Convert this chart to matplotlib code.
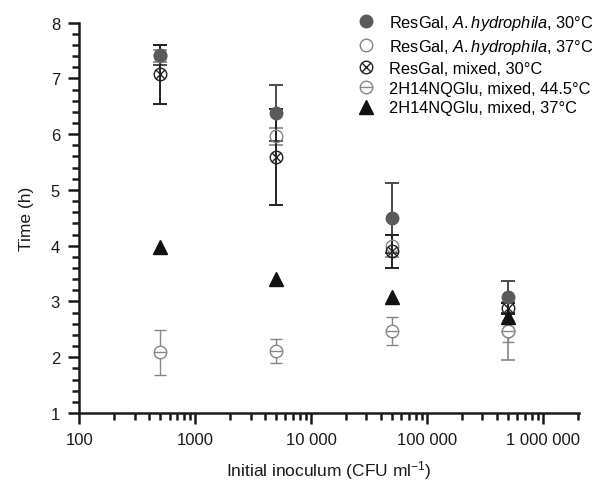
import matplotlib
matplotlib.use("Agg")
import matplotlib.pyplot as plt
from matplotlib.lines import Line2D
from matplotlib.path import Path
from matplotlib.ticker import FixedLocator, MultipleLocator, NullFormatter

plt.rcParams['font.family'] = ['Liberation Sans', 'DejaVu Sans']
plt.rcParams['mathtext.fontset'] = 'custom'
plt.rcParams['mathtext.rm'] = 'Liberation Sans'
plt.rcParams['mathtext.it'] = 'Liberation Sans:italic'

# Data
inoculum = [500, 5000, 50000, 500000]

resgal_ah_30 = [7.42, 6.38, 4.49, 3.08]
resgal_ah_30_err = [0.18, 0.50, 0.63, 0.29]

resgal_ah_37 = [7.40, 5.96, 3.99, 2.47]
resgal_ah_37_err = [0.10, 0.15, 0.20, 0.52]

resgal_mixed_30 = [7.07, 5.59, 3.90, 2.88]
resgal_mixed_30_err = [0.53, 0.86, 0.30, 0.10]

nqglu_445 = [2.09, 2.11, 2.47, 2.47]
nqglu_445_err = [0.40, 0.21, 0.25, 0.20]

nqglu_37 = [3.97, 3.40, 3.08, 2.72]

x_ticks = [100, 1000, 10000, 100000, 1000000]
x_tick_labels = ['100', '1000', '10 000', '100 000', '1 000 000']

labels = ['ResGal, $\\mathit{A.hydrophila}$, 30°C',
          'ResGal, $\\mathit{A.hydrophila}$, 37°C',
          'ResGal, mixed, 30°C',
          '2H14NQGlu, mixed, 44.5°C',
          '2H14NQGlu, mixed, 37°C']

# Custom markers: circle with a cross, circle with a horizontal bar
r = 0.7071
circ = Path.unit_circle()
cross = Path([(-r, -r), (r, r), (-r, r), (r, -r)],
             [Path.MOVETO, Path.LINETO, Path.MOVETO, Path.LINETO])
bar = Path([(-1, 0), (1, 0)], [Path.MOVETO, Path.LINETO])
circle_cross = Path.make_compound_path(circ, cross)
circle_bar = Path.make_compound_path(circ, bar)

dark = '#5a5a5a'
grey = '#858585'
black = '#1a1a1a'

styles = [
    dict(marker='o', ms=9, mfc=dark, mec=dark, mew=1.0),
    dict(marker='o', ms=9, mfc='none', mec=grey, mew=1.0),
    dict(marker=circle_cross, ms=9, mfc='none', mec='#222222', mew=1.0),
    dict(marker=circle_bar, ms=9, mfc='white', mec=grey, mew=1.0),
    dict(marker='^', ms=10, mfc='#111111', mec='#111111', mew=1.0),
]

fig = plt.figure(figsize=(5.95, 4.85), dpi=100)
ax = fig.add_axes([0.1336, 0.1464, 0.8394, 0.805])

# error bars first
ax.errorbar(inoculum, resgal_ah_30, yerr=resgal_ah_30_err, fmt='none',
            ecolor='#4a4a4a', elinewidth=1.4, capsize=5, capthick=1.4, zorder=2)
ax.errorbar(inoculum, resgal_ah_37, yerr=resgal_ah_37_err, fmt='none',
            ecolor=grey, elinewidth=1.2, capsize=5, capthick=1.2, zorder=2)
ax.errorbar(inoculum, resgal_mixed_30, yerr=resgal_mixed_30_err, fmt='none',
            ecolor='#222222', elinewidth=1.4, capsize=5, capthick=1.4, zorder=2)
ax.errorbar(inoculum, nqglu_445, yerr=nqglu_445_err, fmt='none', ecolor=grey,
            elinewidth=1.0, capsize=4, capthick=1.0, zorder=2)

# markers
ax.plot(inoculum, resgal_ah_37, ls='none', zorder=3, **styles[1])
ax.plot(inoculum, nqglu_445, ls='none', zorder=3, **styles[3])
ax.plot(inoculum, resgal_mixed_30, ls='none', zorder=3.5, **styles[2])
ax.plot(inoculum, resgal_ah_30, ls='none', zorder=4, **styles[0])
ax.plot(inoculum, nqglu_37, ls='none', zorder=5, **styles[4])

ax.set_xscale('log')
ax.set_xlim(100, 2.05e6)
ax.set_ylim(1, 8)
ax.xaxis.set_major_locator(FixedLocator(x_ticks))
ax.set_xticklabels(x_tick_labels)
ax.xaxis.set_minor_formatter(NullFormatter())
ax.yaxis.set_major_locator(MultipleLocator(1))
ax.yaxis.set_minor_locator(MultipleLocator(0.2))

ax.spines['top'].set_visible(False)
ax.spines['right'].set_visible(False)
for s in ['left', 'bottom']:
    ax.spines[s].set_linewidth(1.8)
    ax.spines[s].set_color(black)
ax.tick_params(which='major', length=8, width=1.8, labelsize=12,
               colors=black, pad=6)
ax.tick_params(which='minor', length=5, width=1.8, colors=black)

ax.set_xlabel('Initial inoculum (CFU ml$^{\u22121}$)', fontsize=12.5,
              color=black, labelpad=8)
ax.set_ylabel('Time (h)', fontsize=12.5, color=black, labelpad=12)

handles = [Line2D([], [], ls='none', **st) for st in styles]
ax.legend(handles, labels, loc='upper right', bbox_to_anchor=(1.0, 0.975),
          bbox_transform=fig.transFigure, frameon=False, fontsize=11.8,
          handlelength=1.0, handletextpad=0.9, labelspacing=0.3,
          numpoints=1, borderaxespad=0.0, borderpad=0.1)

plt.savefig('out.png', dpi=100)
